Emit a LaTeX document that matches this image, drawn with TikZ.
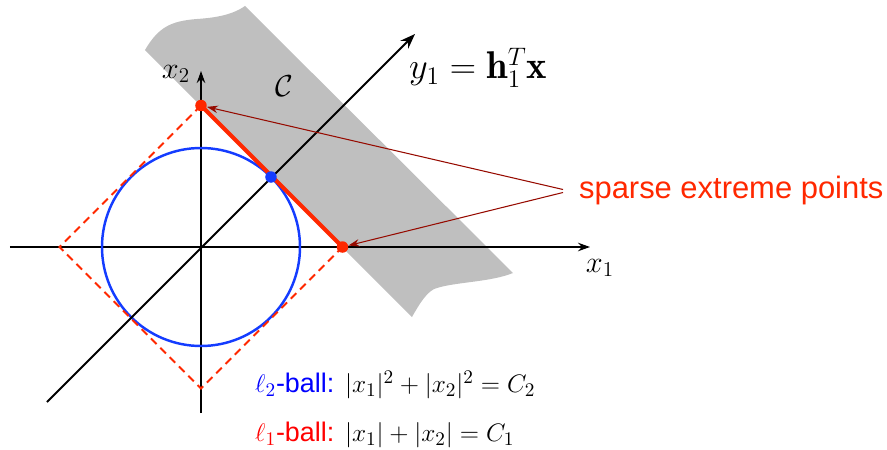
\documentclass[tikz,border=0pt]{standalone}
\usepackage{amsmath,amssymb}
\usepackage{fontspec}
\usepackage{tikz}
\usetikzlibrary{arrows.meta, positioning, calc}
\newfontfamily\helv{Liberation Sans}
\definecolor{bandgray}{RGB}{191,191,191}
\definecolor{lonered}{RGB}{255,40,0}
\definecolor{ltwoblue}{RGB}{20,60,255}
\definecolor{arrowred}{RGB}{150,10,0}

\begin{document}
\begin{tikzpicture}[
  >={Stealth[length=2.5mm]},
  axis/.style={->, line width=0.7pt, >={Stealth[length=2.4mm, width=1.7mm]}},
  dot/.style={circle, inner sep=0pt, minimum size=0.23cm},
  pointer/.style={->, line width=0.6pt, color=arrowred, >={Stealth[length=2.2mm, width=1.5mm]}},
  axlbl/.style={font=\fontsize{16.5}{18}\selectfont, inner sep=1pt},
  legend/.style={font=\fontsize{15.3}{17}\selectfont, inner sep=1pt, anchor=west}
]
\useasboundingbox (-4.02,-4.06) rectangle (13.72,4.94);

% constraint band
\fill[bandgray] (-1.12,3.94) -- (4.22,-1.40)
  .. controls (4.40,-1.08) and (4.55,-0.86) .. (4.72,-0.82)
  .. controls (5.10,-0.70) and (5.80,-0.70) .. (6.24,-0.52)
  -- (0.88,4.82)
  .. controls (0.60,4.62) and (0.20,4.58) .. (-0.08,4.56)
  .. controls (-0.60,4.52) and (-0.85,4.40) .. (-1.12,3.94) -- cycle;

% axes
\coordinate (x1start) at (-3.82,0);
\coordinate (x1end) at (7.78,0);
\coordinate (x2start) at (0,-3.32);
\coordinate (x2end) at (0,3.52);
\draw[axis] (x1start) -- (x1end);
\draw[axis] (x2start) -- (x2end);
\node[axlbl] (x1lbl) at (7.98,-0.42) {$x_1$};
\node[axlbl] (x2lbl) at (-0.5,3.46) {$x_2$};

% balls
\draw[ltwoblue, line width=1.4pt] (0,0) circle (1.98);
\draw[lonered, line width=1.1pt, dash pattern=on 4.5pt off 3pt]
  (0,2.83) -- (-2.83,0) -- (0,-2.83) -- (2.83,0);

% projection direction
\coordinate (ystart) at (-3.08,-3.10);
\coordinate (yend) at (4.28,4.26);
\draw[->, line width=1.1pt, >={Stealth[length=3mm, width=2.2mm]}] (ystart) -- (yend);
\node[font=\fontsize{22}{24}\selectfont, inner sep=1pt, anchor=west] (ylbl) at (4.12,3.58) {$y_1=\mathbf{h}_1^T\mathbf{x}$};
\node[font=\fontsize{18}{20}\selectfont, inner sep=1pt] (clbl) at (1.66,3.22) {$\mathcal{C}$};

% extreme points
\node[dot, fill=lonered] (top) at (0,2.83) {};
\node[dot, fill=lonered] (right) at (2.83,0) {};
\draw[lonered, line width=2.3pt] (top.center) -- (right.center);
\node[dot, fill=ltwoblue] (tangent) at (1.40,1.40) {};

\node[font=\helv\fontsize{17.6}{20}\selectfont, text=lonered, anchor=west, inner sep=1pt] (sparse) at (7.52,1.12) {sparse extreme points};
\coordinate (fork) at (7.24,1.12);
\draw[pointer] ($(fork)+(0,0.03)$) -- (top);
\draw[pointer] ($(fork)+(0,-0.03)$) -- (right);

% legend
\node[legend] (ltwo) at (1.04,-2.76) {{\helv\color{blue}$\ell_2$-ball:} $|x_1|^2+|x_2|^2=C_2$};
\node[legend] (lone) at ($(ltwo.west)+(0,-1.0)$) {{\helv\color{red}$\ell_1$-ball:} $|x_1|+|x_2|=C_1$};
\end{tikzpicture}
\end{document}
